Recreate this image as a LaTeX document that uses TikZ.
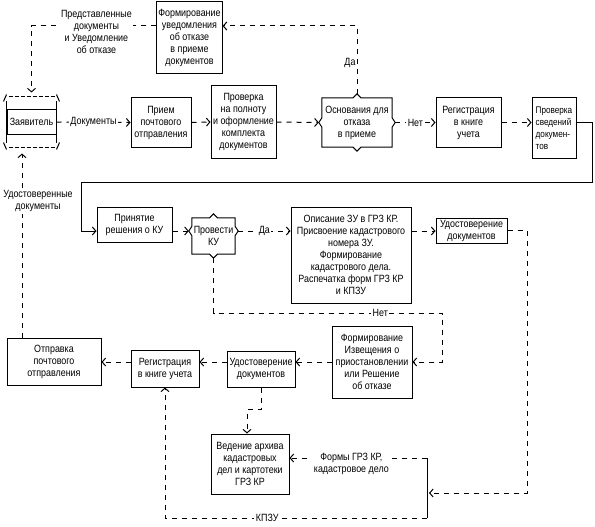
\documentclass[tikz,border=0pt]{standalone}
\usepackage{fontspec}
\setmainfont{Liberation Sans}[FakeStretch=0.85]
\usetikzlibrary{arrows.meta,calc}
\newcommand\DecOutline[2]{%
 \draw[line width=1pt] (#1.north west) -- ([xshift=-4pt]#1.north) -- ([yshift=4pt]#1.north) -- ([xshift=4pt]#1.north) -- (#1.north east)
 -- ([yshift=#2+4.5pt]#1.east) -- ([xshift=3pt,yshift=#2]#1.east) -- ([yshift=#2-4.5pt]#1.east) -- (#1.south east)
 -- ([xshift=4pt]#1.south) -- ([yshift=-4pt]#1.south) -- ([xshift=-4pt]#1.south) -- (#1.south west)
 -- ([yshift=#2-4.5pt]#1.west) -- ([xshift=-3pt,yshift=#2]#1.west) -- ([yshift=#2+4.5pt]#1.west) -- cycle;}
\begin{document}
\begin{tikzpicture}[x=1pt,y=-1pt,
  every node/.style={font=\fontsize{10.5}{12}\selectfont},
  box/.style={draw,line width=1pt,align=center,inner sep=1.5pt},
  dec/.style={align=center,inner sep=1pt},
  lbl/.style={fill=white,inner sep=1.5pt,align=center},
  conn/.style={line width=1pt,dash pattern=on 5pt off 5pt},
  sconn/.style={line width=1pt},
  tip/.style={-{Straight Barb[length=3.5pt,width=8pt,line width=1pt]}}]
\useasboundingbox (0,0) rectangle (595,527);

% nodes
\node[box,minimum width=65pt,minimum height=72pt] (form1) at (189.5,38) {Формирование\\уведомления\\об отказе\\в приеме\\документов};
\node[draw,line width=1pt,minimum width=49pt,minimum height=24pt,inner sep=1pt] (zayav) at (31.5,122) {Заявитель};
\node[box,minimum width=60pt,minimum height=49pt] (priem) at (161,122.5) {Прием\\почтового\\отправления};
\node[box,minimum width=65pt,minimum height=72pt] (prov1) at (243.5,122) {Проверка\\на полноту\\и оформление\\комплекта\\документов};
\node[dec,minimum width=70pt,minimum height=49pt] (osn) at (357,122.5) {Основания для\\отказа\\в приеме};
\node[box,minimum width=65pt,minimum height=49pt] (reg1) at (468.5,122.5) {Регистрация\\в книге\\учета};
\node[box,minimum width=44pt,minimum height=60pt,align=left,inner sep=1pt,font=\fontsize{9.6}{12}\selectfont] (provsv) at (554,128) {Проверка\\сведений\\докумен-\\тов};
\node[box,minimum width=75pt,minimum height=35pt] (prin) at (134.5,224.5) {Принятие\\решения о КУ};
\node[dec,minimum width=43pt,minimum height=36pt] (provku) at (213.5,236) {Провести\\КУ};
\node[box,minimum width=120pt,minimum height=96pt] (opis) at (351,255) {Описание ЗУ в ГРЗ КР.\\Присвоение кадастрового\\номера ЗУ.\\Формирование\\кадастрового дела.\\Распечатка форм ГРЗ КР\\и КПЗУ};
\node[box,minimum width=71pt,minimum height=25pt] (udost1) at (471.5,230.5) {Удостоверение\\документов};
\node[box,minimum width=80pt,minimum height=72pt] (izv) at (372,362) {Формирование\\Извещения о\\приостановлении\\или Решение\\об отказе};
\node[box,minimum width=94pt,minimum height=47pt] (otpr) at (54,361.5) {Отправка\\почтового\\отправления};
\node[box,minimum width=68pt,minimum height=37pt] (reg2) at (165,368.5) {Регистрация\\в книге учета};
\node[box,minimum width=68pt,minimum height=36pt] (udost2) at (261,369) {Удостоверение\\документов};
\node[box,minimum width=78pt,minimum height=60pt] (ved) at (250,464) {Ведение архива\\кадастровых\\дел и картотеки\\ГРЗ КР};

% decision outlines
\DecOutline{osn}{0pt}
\DecOutline{provku}{5pt}

% drum decorations
\draw[sconn] ([yshift=8pt]zayav.north west) -- ([yshift=-8pt]zayav.south west);
\draw[sconn] ([yshift=8pt]zayav.north east) -- ([yshift=-8pt]zayav.south east);
\draw[sconn] ([xshift=-3pt,yshift=8pt]zayav.north west) -- ([yshift=15pt]zayav.north west);
\draw[sconn] ([xshift=3pt,yshift=8pt]zayav.north east) -- ([yshift=15pt]zayav.north east);
\draw[sconn] ([xshift=-3pt,yshift=-8pt]zayav.south west) -- ([yshift=-15pt]zayav.south west);
\draw[sconn] ([xshift=3pt,yshift=-8pt]zayav.south east) -- ([yshift=-15pt]zayav.south east);
\draw[line width=1pt,dash pattern=on 4pt off 2pt] ([xshift=2pt,yshift=13pt]zayav.north west) -- ([xshift=-2pt,yshift=13pt]zayav.north east);
\draw[line width=1pt,dash pattern=on 4pt off 2pt] ([xshift=2pt,yshift=-13pt]zayav.south west) -- ([xshift=-2pt,yshift=-13pt]zayav.south east);

% coordinates
\coordinate (f1w) at ([yshift=12pt]form1.west);
\coordinate (f1e) at ([yshift=12pt]form1.east);
\coordinate (zt) at ([yshift=17pt]zayav.north);
\coordinate (zb) at ([xshift=-9.5pt,yshift=-19pt]zayav.south);
\coordinate (pkw) at ([xshift=-3pt,yshift=5pt]provku.west);
\coordinate (pke) at ([xshift=3pt,yshift=5pt]provku.east);
\coordinate (c1) at (592,182);
\coordinate (c2) at (81,182);
\coordinate (c3) at (442,313);
\coordinate (c4) at (527,493);
\coordinate (b1) at (427,458);
\coordinate (b2) at (427,518);
\coordinate (b3) at (429,493);
\coordinate (c6) at (247,409);

% connectors
\draw[conn,tip] (f1w) -| node[lbl,pos=0.24,yshift=-6pt]{Представленные\\документы\\и Уведомление\\об отказе} (zt);
\draw[conn,tip] (zayav.east) -- node[lbl]{Документы} (priem.west);
\draw[conn,tip] (priem.east) -- (prov1.west);
\draw[conn,tip] (prov1.east) -- ([xshift=-3pt]osn.west);
\draw[conn,tip] ([xshift=3pt]osn.east) -- node[lbl]{Нет} (reg1.west);
\draw[conn,tip] (reg1.east) -- (reg1.east -| provsv.west);
\draw[conn,tip] ([yshift=4pt]osn.north) |- node[pos=0.23,anchor=east,inner sep=1pt]{Да} (f1e);
\draw[sconn,tip] (provsv.east |- reg1.east) -| (c1) -- (c2) |- (prin.west |- pkw);
\draw[conn,tip] (prin.east |- pkw) -- (pkw);
\draw[conn,tip] (pke) -- node[lbl]{Да} (opis.west |- pke);
\draw[conn,tip] (opis.east |- pke) -- (udost1.west |- pke);
\draw[conn,tip] ([yshift=-4pt]provku.south) |- node[lbl,pos=0.865]{Нет} (c3) |- (izv.east);
\draw[conn,tip] (udost1.east) -| (c4) -- (b3);
\draw[sconn] (b1) -- (b2);
\draw[conn,tip] (b1) -- node[lbl,pos=0.55,yshift=-6pt]{Формы ГРЗ КР,\\кадастровое дело} (ved.east |- b1);
\draw[conn,tip] (b2) -| node[lbl,pos=0.305]{КПЗУ} (reg2.south);
\draw[conn,tip] (izv.west) -- (izv.west -| udost2.east);
\draw[conn,tip] (udost2.west |- izv.west) -- (reg2.east |- izv.west);
\draw[conn,tip] (reg2.west |- izv.west) -- (otpr.east |- izv.west);
\draw[conn,tip] (udost2.south) |- (c6) -- (c6 |- ved.north);
\draw[conn,tip] (otpr.north -| zb) -- node[lbl,pos=0.74,xshift=16pt]{Удостоверенные\\документы} (zb);
\end{tikzpicture}
\end{document}
